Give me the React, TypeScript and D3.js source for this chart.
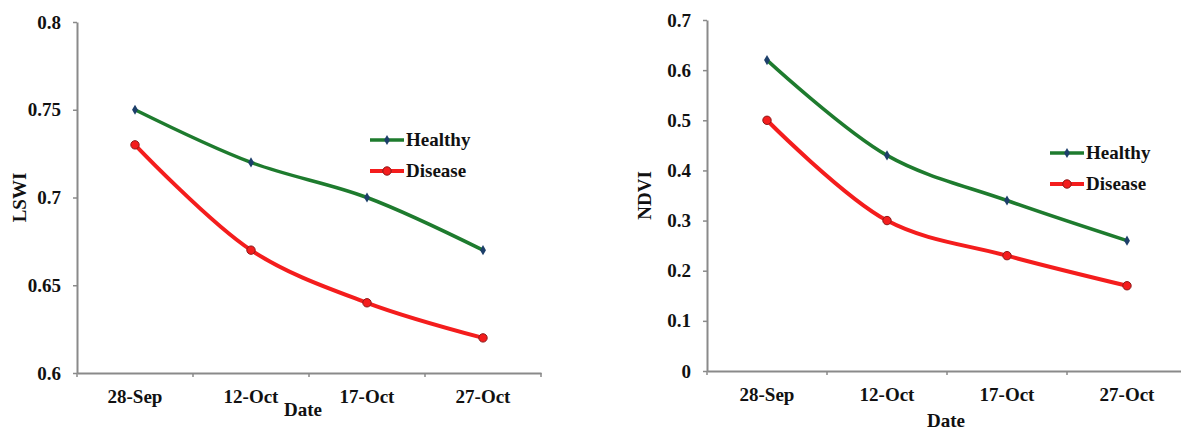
import React, { useRef, useEffect } from 'react';
import * as d3 from 'd3';

const dates = ['28-Sep', '12-Oct', '17-Oct', '27-Oct'];
const lswiHealthy = [0.75, 0.72, 0.70, 0.67];
const lswiDisease = [0.73, 0.67, 0.64, 0.62];
const ndviHealthy = [0.62, 0.43, 0.34, 0.26];
const ndviDisease = [0.50, 0.30, 0.23, 0.17];
const lswiTicks = [0.6, 0.65, 0.7, 0.75, 0.8];
const ndviTicks = [0, 0.1, 0.2, 0.3, 0.4, 0.5, 0.6, 0.7];

const GREEN = '#1e7b2e';
const RED = '#f41d1d';
const FONT = '"Liberation Serif", "Times New Roman", serif';
const FS = 19;

type Panel = {
  left: number; right: number; top: number; bottom: number;
  yDomain: [number, number]; yTicks: number[]; yFmt: (v: number) => string;
  yLabel: string; yLabelX: number;
  healthy: number[]; disease: number[];
  legendX: number; legendY: number;
  dateX: number; dateY: number;
};

const drawPanel = (svg: d3.Selection<SVGSVGElement, unknown, null, undefined>, p: Panel) => {
  const g = svg.append('g');
  const x = d3.scaleBand<string>().domain(dates).range([p.left, p.right]);
  const y = d3.scaleLinear().domain(p.yDomain).range([p.bottom, p.top]);
  const cx = (d: string) => (x(d) as number) + x.bandwidth() / 2;

  // axes
  const yAxis = g.append('g')
    .attr('transform', `translate(${p.left},0)`)
    .call(d3.axisLeft(y).tickValues(p.yTicks).tickFormat(d => p.yFmt(d as number)).tickSize(4).tickSizeOuter(0).tickPadding(12));
  const xAxis = g.append('g')
    .attr('transform', `translate(0,${p.bottom})`)
    .call(d3.axisBottom(x).tickSize(0).tickPadding(17));
  [yAxis, xAxis].forEach(a => {
    a.select('.domain').attr('stroke', '#8a8a8a').attr('stroke-width', 2);
    a.selectAll('.tick line').attr('stroke', '#8a8a8a').attr('stroke-width', 1.5);
    a.selectAll('text').attr('font-family', FONT).attr('font-weight', 'bold')
      .attr('font-size', FS).attr('fill', '#111');
  });
  // x-axis ticks at band boundaries
  g.selectAll('.xb')
    .data(d3.range(dates.length + 1))
    .join('line')
    .attr('x1', i => p.left + i * x.step()).attr('x2', i => p.left + i * x.step())
    .attr('y1', p.bottom).attr('y2', p.bottom + 4)
    .attr('stroke', '#8a8a8a').attr('stroke-width', 1.5);

  const line = d3.line<number>()
    .x((_, i) => cx(dates[i]))
    .y(d => y(d))
    .curve(d3.curveCatmullRom.alpha(0.5));

  g.append('path').datum(p.healthy).attr('d', line)
    .attr('fill', 'none').attr('stroke', GREEN).attr('stroke-width', 3.5);
  g.append('path').datum(p.disease).attr('d', line)
    .attr('fill', 'none').attr('stroke', RED).attr('stroke-width', 4);

  const diamond = d3.symbol().type(d3.symbolDiamond).size(30);
  g.selectAll('.hm').data(p.healthy).join('path')
    .attr('d', diamond)
    .attr('transform', (d, i) => `translate(${cx(dates[i])},${y(d)})`)
    .attr('fill', '#1d3f6a');
  g.selectAll('.dm').data(p.disease).join('circle')
    .attr('cx', (_, i) => cx(dates[i])).attr('cy', d => y(d)).attr('r', 4.2)
    .attr('fill', RED).attr('stroke', '#8b1a1a').attr('stroke-width', 1);

  // legend
  const lg = g.append('g').attr('transform', `translate(${p.legendX},${p.legendY})`);
  const items = [
    { name: 'Healthy', color: GREEN, w: 3.5 },
    { name: 'Disease', color: RED, w: 4 },
  ];
  items.forEach((it, i) => {
    const yy = i * 31;
    lg.append('line').attr('x1', 0).attr('x2', 34).attr('y1', yy).attr('y2', yy)
      .attr('stroke', it.color).attr('stroke-width', it.w);
    if (i === 0) {
      lg.append('path').attr('d', diamond).attr('transform', `translate(17,${yy})`).attr('fill', '#1d3f6a');
    } else {
      lg.append('circle').attr('cx', 17).attr('cy', yy).attr('r', 4.2)
        .attr('fill', RED).attr('stroke', '#8b1a1a');
    }
    lg.append('text').attr('x', 36).attr('y', yy + 6)
      .attr('font-family', FONT).attr('font-weight', 'bold').attr('font-size', FS)
      .attr('fill', '#111').text(it.name);
  });

  // axis titles
  g.append('text')
    .attr('transform', `translate(${p.yLabelX},${(p.top + p.bottom) / 2}) rotate(-90)`)
    .attr('text-anchor', 'middle')
    .attr('font-family', FONT).attr('font-weight', 'bold').attr('font-size', FS).attr('fill', '#111')
    .text(p.yLabel);
  g.append('text')
    .attr('x', p.dateX).attr('y', p.dateY)
    .attr('text-anchor', 'middle')
    .attr('font-family', FONT).attr('font-weight', 'bold').attr('font-size', FS).attr('fill', '#111')
    .text('Date');
};

const App = () => {
  const ref = useRef<SVGSVGElement>(null);

  useEffect(() => {
    if (!ref.current) return;
    const svg = d3.select(ref.current);
    svg.selectAll('*').remove();

    drawPanel(svg, {
      left: 77, right: 541, top: 22, bottom: 373,
      yDomain: [0.6, 0.8], yTicks: lswiTicks, yFmt: d3.format('.3~f'),
      yLabel: 'LSWI', yLabelX: 26,
      healthy: lswiHealthy, disease: lswiDisease,
      legendX: 370, legendY: 140,
      dateX: 303, dateY: 416,
    });
    drawPanel(svg, {
      left: 707, right: 1187, top: 20, bottom: 371,
      yDomain: [0, 0.7], yTicks: ndviTicks, yFmt: d3.format('.1~f'),
      yLabel: 'NDVI', yLabelX: 651,
      healthy: ndviHealthy, disease: ndviDisease,
      legendX: 1050, legendY: 153,
      dateX: 946, dateY: 427,
    });
  }, []);

  return (
    <svg ref={ref} width={1181} height={430}
      style={{ position: 'absolute', left: 0, top: 0, background: '#fff' }} />
  );
};

export default App;
